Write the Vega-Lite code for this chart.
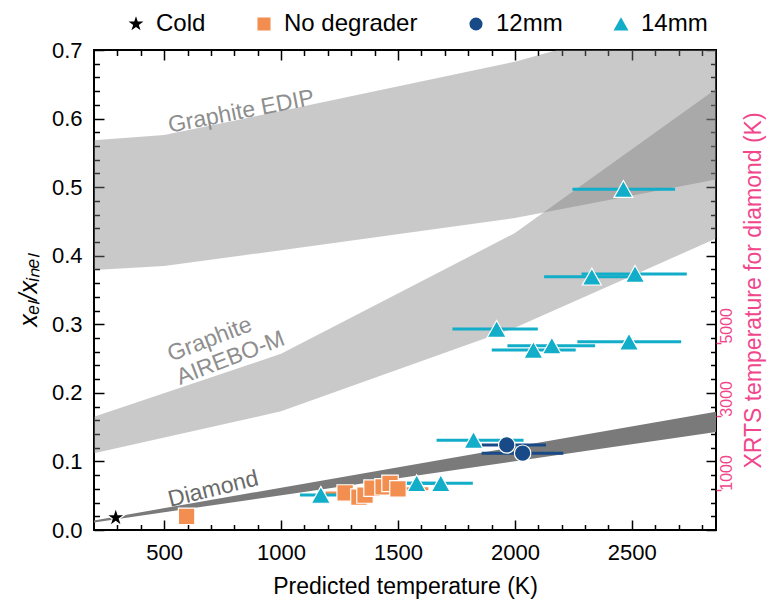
{
  "$schema": "https://vega.github.io/schema/vega-lite/v6.json",
  "width": 622,
  "height": 480,
  "autosize": {"type": "none"},
  "padding": {"left": 94, "top": 50, "right": 52, "bottom": 70},
  "background": "white",
  "config": {
    "font": "Liberation Sans",
    "view": {"stroke": "black", "strokeWidth": 2},
    "axis": {
      "domain": false,
      "grid": false,
      "tickColor": "black",
      "tickWidth": 1.5,
      "tickCount": 200,
      "labelFontSize": 22,
      "labelColor": "black",
      "titleFontSize": 23,
      "titleColor": "black",
      "titleFontWeight": "normal",
      "labelOverlap": false,
      "labelBound": false,
      "labelFlush": false
    }
  },
  "datasets": {
    "edip": [
      {"T": 200, "lo": 0.379, "hi": 0.5685},
      {"T": 500, "lo": 0.385, "hi": 0.576},
      {"T": 1000, "lo": 0.408, "hi": 0.611},
      {"T": 2000, "lo": 0.455, "hi": 0.683},
      {"T": 2860, "lo": 0.511, "hi": 0.764}
    ],
    "airebo": [
      {"T": 200, "lo": 0.112, "hi": 0.165},
      {"T": 1000, "lo": 0.173, "hi": 0.257},
      {"T": 2000, "lo": 0.295, "hi": 0.433},
      {"T": 2860, "lo": 0.425, "hi": 0.643}
    ],
    "diamond": [
      {"T": 200, "lo": 0.011, "hi": 0.014},
      {"T": 2860, "lo": 0.143, "hi": 0.1725}
    ],
    "pts": [
      {"series": "Cold", "T": 293, "r": 0.018},
      {"series": "No degrader", "T": 596, "r": 0.020},
      {"series": "No degrader", "T": 1274, "r": 0.054, "lo": 1190, "hi": 1360},
      {"series": "No degrader", "T": 1333, "r": 0.048},
      {"series": "No degrader", "T": 1359, "r": 0.051},
      {"series": "No degrader", "T": 1389, "r": 0.061},
      {"series": "No degrader", "T": 1436, "r": 0.063},
      {"series": "No degrader", "T": 1466, "r": 0.068},
      {"series": "No degrader", "T": 1500, "r": 0.060, "lo": 1420, "hi": 1630},
      {"series": "12mm", "T": 1965, "r": 0.124, "lo": 1858, "hi": 2133},
      {"series": "12mm", "T": 2033, "r": 0.112, "lo": 1858, "hi": 2207},
      {"series": "14mm", "T": 1170, "r": 0.051, "lo": 1081, "hi": 1260},
      {"series": "14mm", "T": 1580, "r": 0.068, "lo": 1500, "hi": 1660},
      {"series": "14mm", "T": 1683, "r": 0.068, "lo": 1540, "hi": 1820},
      {"series": "14mm", "T": 1823, "r": 0.131, "lo": 1665, "hi": 2037},
      {"series": "14mm", "T": 1922, "r": 0.293, "lo": 1733, "hi": 2098},
      {"series": "14mm", "T": 2079, "r": 0.2624, "lo": 1901, "hi": 2260},
      {"series": "14mm", "T": 2158, "r": 0.2687, "lo": 1968, "hi": 2343},
      {"series": "14mm", "T": 2488, "r": 0.2745, "lo": 2267, "hi": 2711},
      {"series": "14mm", "T": 2329, "r": 0.3693, "lo": 2125, "hi": 2530},
      {"series": "14mm", "T": 2514, "r": 0.3732, "lo": 2285, "hi": 2735},
      {"series": "14mm", "T": 2464, "r": 0.4971, "lo": 2246, "hi": 2685}
    ],
    "lab_edip": [{"T": 829, "r": 0.61, "label": "Graphite EDIP"}],
    "lab_airebo": [{"T": 519, "r": 0.255, "label": "Graphite\nAIREBO-M"}],
    "lab_diamond": [{"T": 710, "r": 0.0595, "label": "Diamond"}],
    "dummy": [{"T": 1000, "r": 0.3}]
  },
  "layer": [
    {
      "layer": [
        {
          "data": {"name": "edip"},
          "mark": {"type": "area", "color": "#7f7f7f", "opacity": 0.42, "clip": true},
          "encoding": {
            "x": {
              "field": "T", "type": "quantitative",
              "scale": {"domain": [200, 2860], "nice": false, "zero": false},
              "axis": {
                "orient": "bottom",
                "title": "Predicted temperature (K)",
                "titlePadding": 8,
                "tickCount": 200,
                "values": [300,400,500,600,700,800,900,1000,1100,1200,1300,1400,1500,1600,1700,1800,1900,2000,2100,2200,2300,2400,2500,2600,2700,2800],
                "format": "d",
                "labelOverlap": false,
                "labelExpr": "datum.value % 500 === 0 ? format(datum.value, 'd') : ''",
                "tickSize": {"condition": {"test": "datum.value % 500 === 0", "value": -10}, "value": -5.5},
                "labelPadding": 22
              }
            },
            "y": {
              "field": "lo", "type": "quantitative",
              "scale": {"domain": [0, 0.7], "nice": false, "zero": false},
              "axis": {
                "orient": "left",
                "title": "xₑₗ/xᵢₙₑₗ",
                "titleFontStyle": "italic",
                "titleFontSize": 25,
                "titlePadding": 10,
                "tickCount": 200,
                "labelOverlap": false,
                "values": [0,0.02,0.04,0.06,0.08,0.1,0.12,0.14,0.16,0.18,0.2,0.22,0.24,0.26,0.28,0.3,0.32,0.34,0.36,0.38,0.4,0.42,0.44,0.46,0.48,0.5,0.52,0.54,0.56,0.58,0.6,0.62,0.64,0.66,0.68,0.7],
                "labelExpr": "abs(datum.value*10 - round(datum.value*10)) < 0.001 ? format(datum.value, '.1f') : ''",
                "tickSize": {"condition": {"test": "abs(datum.value*10 - round(datum.value*10)) < 0.001", "value": -10}, "value": -5.5},
                "labelPadding": 22
              }
            },
            "y2": {"field": "hi"}
          }
        },
        {
          "data": {"name": "airebo"},
          "mark": {"type": "area", "color": "#7f7f7f", "opacity": 0.42, "clip": true},
          "encoding": {
            "x": {"field": "T", "type": "quantitative", "scale": {"domain": [200, 2860], "nice": false, "zero": false}},
            "y": {"field": "lo", "type": "quantitative", "scale": {"domain": [0, 0.7], "nice": false, "zero": false}},
            "y2": {"field": "hi"}
          }
        },
        {
          "data": {"name": "diamond"},
          "mark": {"type": "area", "color": "#7a7a7a", "opacity": 1, "clip": true},
          "encoding": {
            "x": {"field": "T", "type": "quantitative", "scale": {"domain": [200, 2860], "nice": false, "zero": false}},
            "y": {"field": "lo", "type": "quantitative", "scale": {"domain": [0, 0.7], "nice": false, "zero": false}},
            "y2": {"field": "hi"}
          }
        },
        {
          "data": {"name": "lab_edip"},
          "mark": {"type": "text", "angle": -11, "fontSize": 23, "color": "#8e8e8e", "align": "center", "baseline": "middle"},
          "encoding": {
            "x": {"field": "T", "type": "quantitative", "scale": {"domain": [200, 2860], "nice": false, "zero": false}},
            "y": {"field": "r", "type": "quantitative", "scale": {"domain": [0, 0.7], "nice": false, "zero": false}},
            "text": {"field": "label"}
          }
        },
        {
          "data": {"name": "lab_airebo"},
          "mark": {"type": "text", "angle": -21, "fontSize": 23, "color": "#8e8e8e", "align": "left", "baseline": "middle", "lineBreak": "\n", "lineHeight": 25},
          "encoding": {
            "x": {"field": "T", "type": "quantitative", "scale": {"domain": [200, 2860], "nice": false, "zero": false}},
            "y": {"field": "r", "type": "quantitative", "scale": {"domain": [0, 0.7], "nice": false, "zero": false}},
            "text": {"field": "label"}
          }
        },
        {
          "data": {"name": "lab_diamond"},
          "mark": {"type": "text", "angle": -14, "fontSize": 23, "color": "#6a6a6a", "align": "center", "baseline": "middle"},
          "encoding": {
            "x": {"field": "T", "type": "quantitative", "scale": {"domain": [200, 2860], "nice": false, "zero": false}},
            "y": {"field": "r", "type": "quantitative", "scale": {"domain": [0, 0.7], "nice": false, "zero": false}},
            "text": {"field": "label"}
          }
        },
        {
          "data": {"name": "pts"},
          "transform": [{"filter": "isValid(datum.lo) && datum.series === 'No degrader'"}],
          "mark": {"type": "rule", "strokeWidth": 3, "color": "#f28e50"},
          "encoding": {
            "x": {"field": "lo", "type": "quantitative", "scale": {"domain": [200, 2860], "nice": false, "zero": false}},
            "x2": {"field": "hi"},
            "y": {"field": "r", "type": "quantitative", "scale": {"domain": [0, 0.7], "nice": false, "zero": false}}
          }
        },
        {
          "data": {"name": "pts"},
          "transform": [{"filter": "isValid(datum.lo) && datum.series === '12mm'"}],
          "mark": {"type": "rule", "strokeWidth": 3, "color": "#174a87"},
          "encoding": {
            "x": {"field": "lo", "type": "quantitative", "scale": {"domain": [200, 2860], "nice": false, "zero": false}},
            "x2": {"field": "hi"},
            "y": {"field": "r", "type": "quantitative", "scale": {"domain": [0, 0.7], "nice": false, "zero": false}}
          }
        },
        {
          "data": {"name": "pts"},
          "transform": [{"filter": "isValid(datum.lo) && datum.series === '14mm'"}],
          "mark": {"type": "rule", "strokeWidth": 3, "color": "#12adc8"},
          "encoding": {
            "x": {"field": "lo", "type": "quantitative", "scale": {"domain": [200, 2860], "nice": false, "zero": false}},
            "x2": {"field": "hi"},
            "y": {"field": "r", "type": "quantitative", "scale": {"domain": [0, 0.7], "nice": false, "zero": false}}
          }
        },
        {
          "data": {"name": "pts"},
          "mark": {"type": "point", "filled": true, "opacity": 1, "size": 270, "stroke": "white", "strokeWidth": 1.2},
          "encoding": {
            "x": {"field": "T", "type": "quantitative", "scale": {"domain": [200, 2860], "nice": false, "zero": false}},
            "y": {"field": "r", "type": "quantitative", "scale": {"domain": [0, 0.7], "nice": false, "zero": false}},
            "color": {
              "field": "series", "type": "nominal",
              "scale": {"domain": ["Cold", "No degrader", "12mm", "14mm"], "range": ["#000000", "#f28e50", "#174a87", "#12adc8"]},
              "legend": {
                "title": null,
                "orient": "none",
                "legendX": 30,
                "legendY": -38,
                "direction": "horizontal",
                "columns": 4,
                "gridAlign": "none",
                "columnPadding": 46,
                "labelFontSize": 24,
                "labelOffset": 8,
                "labelLimit": 400,
                "symbolSize": 170,
                "symbolStrokeWidth": 0,
                "symbolOpacity": 1
              }
            },
            "shape": {
              "field": "series", "type": "nominal",
              "scale": {"domain": ["Cold", "No degrader", "12mm", "14mm"], "range": ["M0,-1.2L0.27,-0.371L1.141,-0.371L0.436,0.142L0.705,0.971L0,0.459L-0.705,0.971L-0.436,0.142L-1.141,-0.371L-0.27,-0.371Z", "square", "circle", "M0,-1.05L1.15,1L-1.15,1Z"]}
            }
          }
        }
      ]
    },
    {
      "data": {"name": "dummy"},
      "mark": {"type": "point", "opacity": 0},
      "encoding": {
        "x": {
          "field": "T", "type": "quantitative",
          "scale": {"domain": [200, 2860], "nice": false, "zero": false},
          "axis": {
            "orient": "top",
            "title": null,
            "tickCount": 200,
            "values": [300,400,500,600,700,800,900,1000,1100,1200,1300,1400,1500,1600,1700,1800,1900,2000,2100,2200,2300,2400,2500,2600,2700,2800],
            "labels": false,
            "tickSize": {"condition": {"test": "datum.value % 500 === 0", "value": -10}, "value": -5.5}
          }
        },
        "y": {
          "field": "r", "type": "quantitative",
          "scale": {"domain": [0, 0.7], "nice": false, "zero": false},
          "axis": {
            "orient": "right",
            "title": "XRTS temperature for diamond (K)",
            "titleColor": "#f0468c",
            "titleAngle": -90,
            "titleFontSize": 23,
            "titlePadding": 31,
            "tickCount": 200,
            "labelOverlap": false,
            "values": [0,0.02,0.04,0.058,0.06,0.08,0.1,0.12,0.14,0.16,0.166,0.18,0.2,0.22,0.24,0.26,0.2726,0.28,0.3,0.32,0.34,0.36,0.38,0.4,0.42,0.44,0.46,0.48,0.5,0.52,0.54,0.56,0.58,0.6,0.62,0.64,0.66,0.68,0.7],
            "labelExpr": "abs(datum.value-0.058)<0.0005 ? '1000' : abs(datum.value-0.166)<0.0005 ? '3000' : abs(datum.value-0.2726)<0.0005 ? '5000' : ''",
            "labelColor": "#f0468c",
            "labelFontSize": 16,
            "labelAngle": -90,
            "labelAlign": "left",
            "labelBaseline": "middle",
            "labelPadding": 5,
            "tickColor": {"condition": {"test": "abs(datum.value-0.058)<0.0005 || abs(datum.value-0.166)<0.0005 || abs(datum.value-0.2726)<0.0005", "value": "#f0468c"}, "value": "black"},
            "tickSize": {"condition": [
              {"test": "abs(datum.value-0.058)<0.0005 || abs(datum.value-0.166)<0.0005 || abs(datum.value-0.2726)<0.0005", "value": 5},
              {"test": "abs(datum.value*10 - round(datum.value*10)) < 0.001", "value": -10}
            ], "value": -5.5}
          }
        }
      }
    }
  ],
  "resolve": {"axis": {"x": "independent", "y": "independent"}}
}
